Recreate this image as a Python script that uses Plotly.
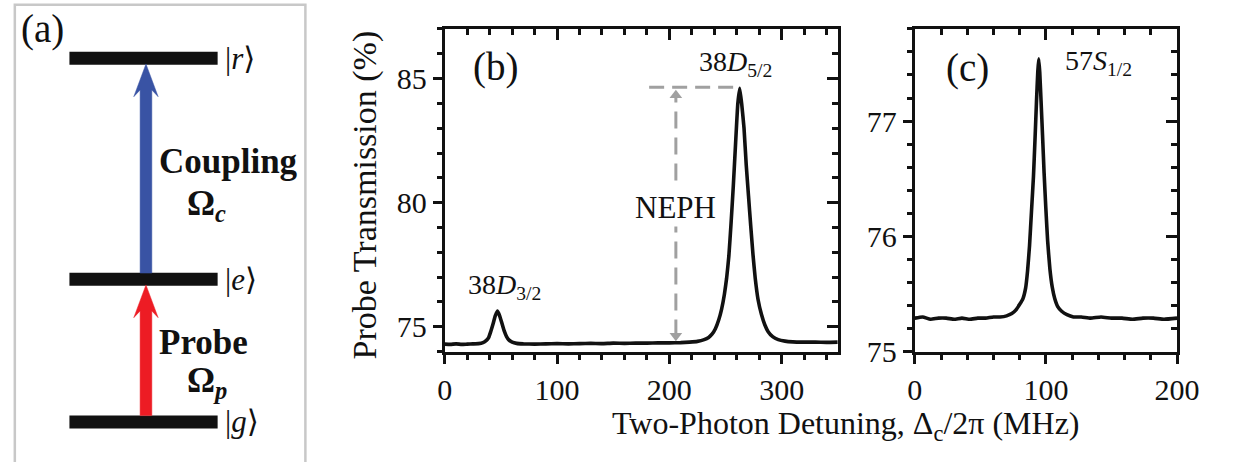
import plotly.graph_objects as go

W, H = 1242, 462          # target picture size
FONT = "Liberation Serif, Tinos, Times New Roman, DejaVu Serif, serif"

# ---------------- data ----------------
# panel (b): 38D spectrum
x_b = [0, 5, 10, 15, 20, 25, 30, 34, 37, 39, 41, 43, 45, 47, 49, 51, 53, 55, 57, 60, 64, 70,
       80, 90, 100, 110, 120, 130, 140, 150, 160, 170, 180, 190, 200, 210, 218, 225, 231, 235,
       238, 241, 244, 246.5, 249, 251, 253, 255, 257, 259, 261, 262.7, 264.5, 266.5, 268.5,
       270.5, 272.5, 274.5, 276.5, 279, 282, 285, 288, 292, 297, 303, 310, 320, 330, 340, 350]
y_b = [74.30, 74.29, 74.31, 74.29, 74.30, 74.31, 74.32, 74.36, 74.45, 74.56, 74.82, 75.12,
       75.45, 75.63, 75.42, 75.12, 74.82, 74.60, 74.47, 74.38, 74.33, 74.31,
       74.30, 74.31, 74.32, 74.31, 74.32, 74.33, 74.32, 74.34, 74.33, 74.34, 74.34, 74.35,
       74.35, 74.36, 74.38, 74.41, 74.48, 74.57,
       74.70, 74.92, 75.28, 75.70, 76.30, 76.95, 77.85, 79.20, 80.70, 82.40, 84.00, 84.61,
       83.95, 83.00, 81.50, 80.27, 79.05, 77.90, 76.95, 76.10, 75.50, 75.08, 74.80, 74.60,
       74.48, 74.42, 74.39, 74.38, 74.38, 74.37, 74.38]

# panel (c): 57S spectrum
x_c = [0, 6, 12, 18, 24, 30, 36, 42, 48, 54, 60, 65, 70, 74, 77, 80, 82.5, 84.5, 86, 87.5, 89,
       90.5, 91.7, 92.8, 93.8, 94.5, 95.3, 96.3, 97.4, 98.6, 99.9, 101.3, 103, 104.8, 106.7,
       109, 112, 116, 121, 127, 134, 142, 150, 158, 166, 174, 182, 190, 200]
y_c = [75.29, 75.30, 75.28, 75.29, 75.29, 75.28, 75.29, 75.28, 75.29, 75.29, 75.30, 75.30,
       75.31, 75.33, 75.36, 75.41, 75.46, 75.55, 75.70, 75.92, 76.22,
       76.52, 76.85, 77.17, 77.43, 77.54, 77.42, 77.17, 76.88, 76.55, 76.25, 75.96, 75.72,
       75.56, 75.46, 75.39, 75.35, 75.32, 75.30, 75.30, 75.29, 75.30, 75.29, 75.29, 75.28,
       75.29, 75.29, 75.28, 75.29]

xticks_b = [0, 100, 200, 300]
yticks_b = [75, 80, 85]
xticks_c = [0, 100, 200]
yticks_c = [75, 76, 77]

# panel (a): level scheme (energies in arbitrary units)
level_names = ["g", "e", "r"]
level_E = [0.0, 1.0, 2.55]
transitions = [("g", "e", "#ed1c24"), ("e", "r", "#3953a4")]

# ---------------- helpers (reference-picture pixels -> paper) ----------------
def pxx(p):
    return p / W

def pxy(p):
    return 1 - p / H

E_PER_PX = 1 / 148.0           # schematic scale of panel (a)
E_TOP = 438 * E_PER_PX         # energy at the top of the figure
E_BOT = (438 - H) * E_PER_PX   # energy at the bottom of the figure

fig = go.Figure()

line_style = dict(color="#111111", width=3.6, shape="spline", smoothing=0.4)
fig.add_trace(go.Scatter(x=x_b, y=y_b, mode="lines", line=line_style, xaxis="x", yaxis="y",
                         showlegend=False, hoverinfo="skip"))
fig.add_trace(go.Scatter(x=x_c, y=y_c, mode="lines", line=line_style, xaxis="x2", yaxis="y2",
                         showlegend=False, hoverinfo="skip"))
# carriers for the mirrored (inside) tick axes
fig.add_trace(go.Scatter(x=[None], y=[None], xaxis="x3", yaxis="y3", showlegend=False))
fig.add_trace(go.Scatter(x=[None], y=[None], xaxis="x4", yaxis="y4", showlegend=False))

# NEPH marker (dashed gray double arrow)
GRAY = "#a0a0a0"
peak_b = max(y_b)
base_b = 74.36
neph_x = 205.8
fig.add_trace(go.Scatter(x=[182, x_b[y_b.index(peak_b)]], y=[peak_b + 0.04, peak_b + 0.04],
                         mode="lines", line=dict(color=GRAY, width=3, dash="15px,8px"),
                         xaxis="x", yaxis="y", showlegend=False, hoverinfo="skip"))
fig.add_trace(go.Scatter(x=[neph_x, neph_x], y=[base_b + 0.25, peak_b - 0.3],
                         mode="lines", line=dict(color=GRAY, width=3, dash="17px,9px"),
                         xaxis="x", yaxis="y", showlegend=False, hoverinfo="skip"))
fig.add_trace(go.Scatter(x=[neph_x, neph_x], y=[peak_b - 0.28, base_b + 0.28],
                         mode="markers",
                         marker=dict(symbol=["triangle-up", "triangle-down"], size=11, color=GRAY),
                         xaxis="x", yaxis="y", showlegend=False, hoverinfo="skip"))

# panel (a) levels
BAR_X0, BAR_X1, ARROW_X = 63, 215, 141.5
for name, E in zip(level_names, level_E):
    fig.add_trace(go.Scatter(x=[BAR_X0, BAR_X1], y=[E, E], mode="lines",
                             line=dict(color="#111111", width=13), xaxis="x5", yaxis="y5",
                             showlegend=False, hoverinfo="skip"))

Eof = dict(zip(level_names, level_E))
for lo, hi, col in transitions:
    e0 = Eof[lo] + 6.5 * E_PER_PX
    tip = Eof[hi] - 5.8 * E_PER_PX
    barb = tip - 34 * E_PER_PX
    notch = tip - 27 * E_PER_PX
    sw, hw = 6.0, 12.5
    xs = [ARROW_X, ARROW_X + hw, ARROW_X + sw, ARROW_X + sw, ARROW_X - sw, ARROW_X - sw, ARROW_X - hw, ARROW_X]
    ys = [tip, barb, notch, e0, e0, notch, barb, tip]
    fig.add_trace(go.Scatter(x=xs, y=ys, mode="lines", fill="toself", fillcolor=col,
                             line=dict(color=col, width=0.5), xaxis="x5", yaxis="y5",
                             showlegend=False, hoverinfo="skip"))

# ---------------- axes ----------------
tickfont = dict(family=FONT, size=30, color="#111111")
common = dict(showline=True, linewidth=3, linecolor="#111111", mirror=True, ticks="outside",
              ticklen=9, tickwidth=3, tickcolor="#111111", showgrid=False, zeroline=False,
              tickfont=tickfont)
mirror_ax = dict(ticks="inside", ticklen=11, tickwidth=3, tickcolor="#111111",
                 showticklabels=False, showline=False, showgrid=False, zeroline=False)

def minor(dt, kind, ln):
    return dict(dtick=dt, tick0=0, ticklen=ln, tickwidth=3, ticks=kind, tickcolor="#111111")

yb_dom = [pxy(365), pxy(30)]
fig.update_layout(
    xaxis=dict(domain=[pxx(448), pxx(851)], range=[0, 350], anchor="y", tickvals=xticks_b,
               minor=minor(20, "outside", 5), **common),
    yaxis=dict(domain=yb_dom, range=[74, 87], anchor="x", tickvals=yticks_b,
               minor=minor(1, "outside", 5), **common),
    xaxis2=dict(domain=[pxx(930), pxx(1199)], range=[0, 200], anchor="y2", tickvals=xticks_c,
                minor=minor(20, "outside", 5), **common),
    yaxis2=dict(domain=yb_dom, range=[75, 77.8], anchor="x2", tickvals=yticks_c,
                minor=minor(0.2, "outside", 5), **common),
    xaxis3=dict(overlaying="x", side="top", anchor="y3", range=[0, 350], tickvals=xticks_b,
                minor=minor(20, "inside", 6), **mirror_ax),
    yaxis3=dict(overlaying="y", side="right", anchor="x3", range=[74, 87], tickvals=yticks_b,
                minor=minor(1, "inside", 6), **mirror_ax),
    xaxis4=dict(overlaying="x2", side="top", anchor="y4", range=[0, 200], tickvals=xticks_c,
                minor=minor(20, "inside", 6), **mirror_ax),
    yaxis4=dict(overlaying="y2", side="right", anchor="x4", range=[75, 77.8], tickvals=yticks_c,
                minor=minor(0.2, "inside", 6), **mirror_ax),
    xaxis5=dict(domain=[0, pxx(310)], range=[0, 310], anchor="y5", visible=False),
    yaxis5=dict(domain=[0, 1], range=[E_BOT, E_TOP], anchor="x5", visible=False),
)

# ---------------- annotations ----------------
ann = []
def A(text, x, y, size, xref="paper", yref="paper", xanchor="left", yanchor="middle", **kw):
    ann.append(dict(text=text, x=x, y=y, xref=xref, yref=yref, xanchor=xanchor, yanchor=yanchor,
                    showarrow=False, font=dict(family=FONT, size=size, color="#111111"), **kw))

A("(a)", pxx(11), pxy(30), 39)
A("(b)", 23.4, 85.47, 39, xref="x", yref="y")
A("(c)", 22.3, 77.46, 39, xref="x2", yref="y2")

for name, E in zip(level_names, level_E):
    A("|<i>%s</i>\u27e9" % name, pxx(221), (E - E_BOT) / (E_TOP - E_BOT), 31)

A("<b>Coupling</b>", pxx(153), pxy(168), 35)
A("<b>\u03a9<sub><i>c</i></sub></b>", pxx(182), pxy(213), 35)
A("<b>Probe</b>", pxx(153), pxy(356), 35)
A("<b>\u03a9<sub><i>p</i></sub></b>", pxx(182), pxy(397), 35)

A("38<i>D</i><sub>3/2</sub>", 19.1, 76.63, 28, xref="x", yref="y")
A("38<i>D</i><sub>5/2</sub>", 225, 85.61, 28, xref="x", yref="y")
A("NEPH", neph_x, 79.8, 31, xref="x", yref="y", xanchor="center", bgcolor="white")
A("57<i>S</i><sub>1/2</sub>", 113, 77.51, 28, xref="x2", yref="y2")

A("Probe Transmission (%)", pxx(366), pxy(202), 34, xanchor="center", textangle=-90)
A("Two-Photon Detuning, \u0394<sub>c</sub>/2\u03c0 (MHz)", pxx(859), pxy(442), 32, xanchor="center")

fig.update_layout(
    annotations=ann,
    shapes=[dict(type="rect", xref="paper", yref="paper", x0=pxx(7), x1=pxx(305),
                 y0=-0.2, y1=pxy(5), line=dict(color="#c8c8c8", width=2.5))],
    width=W, height=H, margin=dict(l=0, r=0, t=0, b=0),
    paper_bgcolor="white", plot_bgcolor="white",
    font=dict(family=FONT, color="#111111"),
)

fig.write_html("out.html", config={"displayModeBar": False},
               post_script="document.body.style.margin='0px';"
                           "document.documentElement.style.overflow='hidden';")
